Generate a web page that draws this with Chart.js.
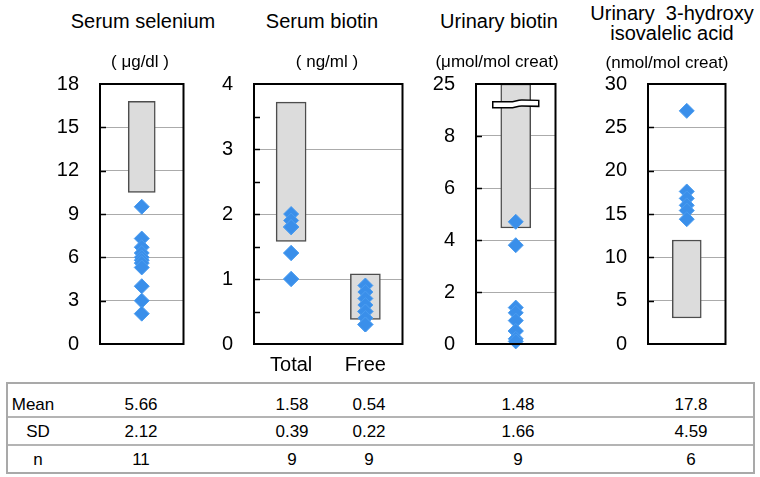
<!DOCTYPE html>
<html>
<head>
<meta charset="utf-8">
<script src="https://cdn.jsdelivr.net/npm/chart.js@4/dist/chart.umd.min.js"></script>
<style>
  html, body { margin: 0; padding: 0; background: #fff; }
  body { width: 760px; height: 477px; position: relative; overflow: hidden;
         font-family: "Liberation Sans", Arial, Helvetica, sans-serif; color: #000; }
  .lbl { position: absolute; transform: translate(-50%, -50%); white-space: pre; line-height: 1; }
  .title { font-size: 20px; }
  .unit { font-size: 17px; }
  .panel { position: absolute; }
  #stats { position: absolute; left: 6px; top: 382px; width: 745px; height: 88px;
           border: 2px solid #a9a9a9; }
  .row { position: absolute; left: 0; right: 0; }
  .row + .row { border-top: 2px solid #b4b4b4; }
  .cell { position: absolute; transform: translate(-50%, -50%); font-size: 17px; line-height: 1; }
</style>
</head>
<body>

<script>
// ---------------- data ----------------
const panelTitles = ["Serum selenium", "Serum biotin", "Urinary biotin", "Urinary  3-hydroxy\nisovalelic acid"];
const panelUnits = ["( μg/dl )", "( ng/ml )", "(μmol/mol creat)", "(nmol/mol creat)"];

// Serum selenium (μg/dl)
const seleniumValues = [9.5, 7.3, 6.7, 6.3, 6.0, 5.8, 5.6, 5.3, 4.0, 3.0, 2.1];
const seleniumRange = [10.5, 16.8];
const seleniumTicks = [0, 3, 6, 9, 12, 15, 18];

// Serum biotin (ng/ml)
const biotinCategories = ["Total", "Free"];
const totalBiotinValues = [2.0, 1.9, 1.8, 1.8, 1.8, 1.4, 1.4, 1.0, 1.0];
const totalBiotinRange = [1.58, 3.72];
const freeBiotinValues = [0.9, 0.8, 0.7, 0.6, 0.5, 0.5, 0.4, 0.3, 0.3];
const freeBiotinRange = [0.38, 1.08];
const biotinTicks = [0, 1, 2, 3, 4];
const biotinMinorTicks = [0, 0.5, 1, 1.5, 2, 2.5, 3, 3.5, 4];

// Urinary biotin (μmol/mol creat) – broken axis, top label reads 25
const urinaryBiotinValues = [4.7, 3.8, 1.4, 1.2, 0.9, 0.5, 0.5, 0.2, 0.1];
const urinaryBiotinRange = [4.46, 10];
const urinaryBiotinTicks = [0, 2, 4, 6, 8, 10];
const urinaryBiotinTickLabels = ["0", "2", "4", "6", "8", "25"];
const urinaryBiotinBreakAt = 9.2;

// Urinary 3-hydroxyisovaleric acid (nmol/mol creat)
const hivaValues = [26.9, 17.6, 16.8, 16.0, 15.4, 14.4];
const hivaRange = [3.0, 12.0];
const hivaTicks = [0, 5, 10, 15, 20, 25, 30];

// summary table
const statLabels = ["Mean", "SD", "n"];
const statMeans = ["5.66", "1.58", "0.54", "1.48", "17.8"];
const statSDs = ["2.12", "0.39", "0.22", "1.66", "4.59"];
const statNs = ["11", "9", "9", "9", "6"];

// ---------------- styling ----------------
const FONT = "'Liberation Sans', Arial, Helvetica, sans-serif";
const BOX_FILL = "#dcdcdc";
const BOX_EDGE = "#4d4d4d";
const DOT = "#3a8fea";
const GRID = "#ababab";

// layout (plot area edges in page pixels)
const layouts = [
  { left: 100, right: 186, bar: 27 },
  { left: 254, right: 405, bar: 30 },
  { left: 476, right: 558, bar: 30 },
  { left: 648, right: 728, bar: 29 }
];
const PLOT_TOP = 84, PLOT_BOTTOM = 344;
const TOP = 60, HEIGHT = 320, AXW = 60, PADTOP = 14, XAXH = 36, PADR = 6;

// ---------------- plugins ----------------
const framePlugin = {
  id: "frame",
  afterDatasetsDraw(chart, args, opts) {
    const { ctx, chartArea: a, scales } = chart;
    const y = scales.y;
    ctx.save();
    ctx.strokeStyle = "#000";
    ctx.lineWidth = 1.5;
    y.ticks.forEach(t => {
      if (t.value <= y.min || t.value >= y.max) return;
      const py = Math.round(y.getPixelForValue(t.value)) + 0.5;
      ctx.beginPath();
      ctx.moveTo(a.left, py);
      ctx.lineTo(a.left + 6, py);
      ctx.stroke();
    });
    if (opts && opts.breakAt !== undefined) {
      const bar = chart.getDatasetMeta(0).data[0];
      const half = bar.width / 2 + 8;
      const x0 = bar.x - half, x1 = bar.x + half;
      const py = y.getPixelForValue(opts.breakAt);
      const h = 6, w = 1.8;
      const xm = (x0 + x1) / 2;
      ctx.beginPath();
      ctx.moveTo(x0, py - h / 2);
      ctx.lineTo(xm - 6, py - h / 2);
      ctx.bezierCurveTo(xm - 1, py - h / 2, xm + 1, py - h / 2 - w, xm + 6, py - h / 2 - w);
      ctx.lineTo(x1, py - h / 2 - w * 0.8);
      ctx.lineTo(x1, py + h / 2 - w * 0.8);
      ctx.lineTo(xm + 6, py + h / 2 - w);
      ctx.bezierCurveTo(xm + 1, py + h / 2 - w, xm - 1, py + h / 2, xm - 6, py + h / 2);
      ctx.lineTo(x0, py + h / 2);
      ctx.closePath();
      ctx.fillStyle = "#fff";
      ctx.fill();
      ctx.strokeStyle = "#000";
      ctx.lineWidth = 1.5;
      ctx.stroke();
    }
    ctx.strokeStyle = "#000";
    ctx.lineWidth = 2;
    ctx.strokeRect(a.left, a.top, a.right - a.left, a.bottom - a.top);
    ctx.restore();
  }
};

// ---------------- builder ----------------
function makePanel(idx, cfg) {
  const L = layouts[idx];
  const w = AXW + (L.right - L.left) + PADR;
  const div = document.createElement("div");
  div.className = "panel";
  div.style.left = (L.left - AXW) + "px";
  div.style.top = TOP + "px";
  div.style.width = w + "px";
  div.style.height = HEIGHT + "px";
  const cv = document.createElement("canvas");
  cv.width = w; cv.height = HEIGHT;
  cv.style.width = w + "px"; cv.style.height = HEIGHT + "px";
  div.appendChild(cv);
  document.body.appendChild(div);

  const datasets = [{
    type: "bar",
    data: cfg.groups.map(g => ({ x: g.cat, y: g.range })),
    backgroundColor: BOX_FILL,
    borderColor: BOX_EDGE,
    borderWidth: 1.5,
    borderSkipped: false,
    barThickness: L.bar,
    grouped: false,
    order: 2
  }];
  cfg.groups.forEach(g => {
    datasets.push({
      type: "line",
      data: g.values.map(v => ({ x: g.cat, y: v })),
      showLine: false,
      pointStyle: "rectRot",
      pointRadius: 7.5,
      pointHoverRadius: 7.5,
      backgroundColor: DOT,
      borderColor: "#4a9cf0",
      borderWidth: 1,
      clip: false,
      order: 1
    });
  });

  const chart = new Chart(cv, {
    type: "bar",
    data: { labels: cfg.groups.map(g => g.cat), datasets },
    options: {
      responsive: false,
      maintainAspectRatio: false,
      animation: false,
      devicePixelRatio: 1,
      layout: { padding: { top: PADTOP, right: PADR, left: 0, bottom: 0 } },
      plugins: {
        legend: { display: false },
        tooltip: { enabled: false },
        frame: cfg.breakAt !== undefined ? { breakAt: cfg.breakAt } : {}
      },
      scales: {
        x: {
          type: "category",
          offset: true,
          grid: { display: false },
          border: { display: false },
          ticks: { display: cfg.showX, color: "#000", padding: 1, font: { family: FONT, size: 20 } },
          afterFit: s => { s.height = XAXH; }
        },
        y: {
          min: cfg.ticks[0],
          max: cfg.ticks[cfg.ticks.length - 1],
          afterBuildTicks: s => {
            const vals = cfg.minor ? cfg.minor : cfg.ticks;
            s.ticks = vals.map(v => ({ value: v }));
          },
          border: { display: false },
          grid: {
            drawTicks: false,
            lineWidth: 1,
            color: ctx => (cfg.ticks.includes(ctx.tick.value) ? GRID : "rgba(0,0,0,0)")
          },
          ticks: {
            color: "#000",
            padding: 21,
            font: { family: FONT, size: 20 },
            callback: v => {
              const i = cfg.ticks.indexOf(v);
              if (i < 0) return "";
              return cfg.labels ? cfg.labels[i] : String(v);
            }
          },
          afterFit: s => { s.width = AXW; }
        }
      }
    },
    plugins: [framePlugin]
  });

  // align the plot area to the intended page position
  for (let pass = 0; pass < 3; pass++) {
    const a = chart.chartArea;
    const curH = chart.height;
    const newH = Math.round(curH + ((PLOT_BOTTOM - PLOT_TOP) - (a.bottom - a.top)));
    div.style.height = newH + "px";
    chart.resize(w, newH);
  }
  const c = chart.chartArea;
  div.style.top = (PLOT_TOP - c.top) + "px";
}

makePanel(0, {
  groups: [{ cat: "Se", values: seleniumValues, range: seleniumRange }],
  ticks: seleniumTicks, showX: false
});
makePanel(1, {
  groups: [
    { cat: biotinCategories[0], values: totalBiotinValues, range: totalBiotinRange },
    { cat: biotinCategories[1], values: freeBiotinValues, range: freeBiotinRange }
  ],
  ticks: biotinTicks, minor: biotinMinorTicks, showX: true
});
makePanel(2, {
  groups: [{ cat: "UB", values: urinaryBiotinValues, range: urinaryBiotinRange }],
  ticks: urinaryBiotinTicks, labels: urinaryBiotinTickLabels, showX: false,
  breakAt: urinaryBiotinBreakAt
});
makePanel(3, {
  groups: [{ cat: "HIVA", values: hivaValues, range: hivaRange }],
  ticks: hivaTicks, showX: false
});

// titles and units
const titlePos = [
  { x: 143, y: 21, ux: 140, uy: 61 },
  { x: 322, y: 21, ux: 327, uy: 61 },
  { x: 499, y: 21, ux: 497, uy: 61 },
  { x: 672, y: 23, ux: 667, uy: 62 }
];
panelTitles.forEach((t, i) => {
  const lines = t.split("\n");
  const p = titlePos[i];
  lines.forEach((ln, j) => {
    const d = document.createElement("div");
    d.className = "lbl title";
    d.textContent = ln;
    d.style.left = p.x + "px";
    d.style.top = (lines.length > 1 ? (13 + j * 20) : p.y) + "px";
    document.body.appendChild(d);
  });
  const u = document.createElement("div");
  u.className = "lbl unit";
  u.textContent = panelUnits[i];
  u.style.left = p.ux + "px";
  u.style.top = p.uy + "px";
  document.body.appendChild(u);
});

// summary table
const stats = document.createElement("div");
stats.id = "stats";
document.body.appendChild(stats);
const colX = [25, 133, 284, 361, 510, 683];
const rowH = [32, 28, 28];
const rowsData = [statMeans, statSDs, statNs];
let ry = 0;
statLabels.forEach((lab, r) => {
  const row = document.createElement("div");
  row.className = "row";
  row.style.top = ry + "px";
  row.style.height = (rowH[r] - (r ? 2 : 0)) + "px";
  const cells = [lab].concat(rowsData[r]);
  cells.forEach((c, k) => {
    const d = document.createElement("div");
    d.className = "cell";
    d.textContent = c;
    d.style.left = (colX[k] + (k === 0 && r > 0 ? 5 : 0)) + "px";
    d.style.top = (r === 0 ? 20 : 13) + "px";
    row.appendChild(d);
  });
  stats.appendChild(row);
  ry += rowH[r];
});
</script>
</body>
</html>
